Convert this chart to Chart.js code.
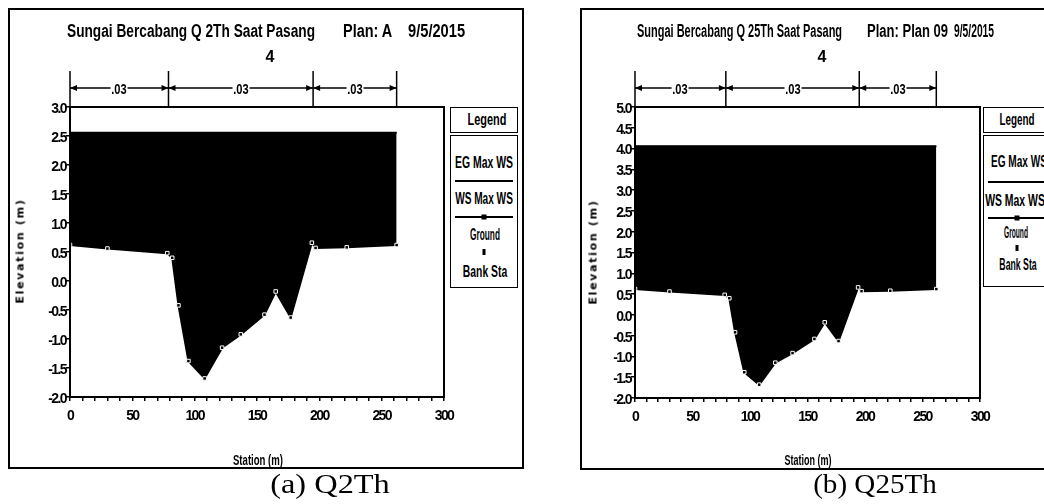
<!DOCTYPE html>
<html><head><meta charset="utf-8">
<script src="https://cdn.jsdelivr.net/npm/chart.js@4.4.1/dist/chart.umd.min.js"></script>
<style>
html,body{margin:0;padding:0;background:#fff;}
body{width:1044px;height:504px;position:relative;overflow:hidden;font-family:'Liberation Sans',Arial,sans-serif;color:#000;}
canvas.c{position:absolute;left:0;top:0;}
.frame{position:absolute;border:2px solid #000;box-sizing:border-box;}
.t{position:absolute;white-space:nowrap;line-height:1;}
.cc{transform:translate(-50%,-50%);}
.lg{position:absolute;border:1.5px solid #000;box-sizing:border-box;background:#fff;}
.ttl{font-size:18px;font-weight:bold;top:31px;}
.leg{font-size:16px;font-weight:bold;}
.ln{position:absolute;height:2px;background:#000;}
.sq{position:absolute;width:5px;height:5px;background:#000;transform:translate(-50%,-50%);}
.ax{font-family:'DejaVu Sans',sans-serif;font-weight:bold;font-size:11px;letter-spacing:1.7px;}
.st{font-size:14px;font-weight:bold;}
.cap{font-family:'Liberation Serif','DejaVu Serif',serif;font-size:27px;}
.nv{font-size:15px;font-weight:bold;background:#fff;padding:0 1px;}
</style></head><body>
<div class="frame" style="left:8px;top:8px;width:516px;height:461px;"></div>
<div class="frame" style="left:580px;top:8px;width:500px;height:462px;"></div>

<canvas id="c1" class="c" width="1044" height="504"></canvas>
<canvas id="c2" class="c" width="1044" height="504"></canvas>

<!-- left panel texts -->
<div class="t ttl fit" data-w="248" data-al="l" style="left:67px;">Sungai Bercabang Q 2Th Saat Pasang</div>
<div class="t ttl fit" data-w="49" data-al="l" style="left:343px;">Plan: A</div>
<div class="t ttl fit" data-w="57" data-al="l" style="left:408px;">9/5/2015</div>
<div class="t cc" style="left:270px;top:57px;font-size:16px;font-weight:bold;">4</div>
<div class="t cc ax" style="left:20px;top:251px;transform:translate(-50%,-50%) rotate(-90deg);">Elevation (m)</div>
<div class="t st fit" data-w="50" data-al="c" style="left:258px;top:460px;">Station (m)</div>
<div class="t cap fit" data-w="120" data-al="c" style="left:330px;top:484px;">(a) Q2Th</div>

<div class="lg" style="left:450px;top:107px;width:68px;height:26px;"></div>
<div class="t leg fit" data-w="39" data-al="c" style="left:487px;top:120px;">Legend</div>
<div class="lg" style="left:450px;top:135px;width:68px;height:153px;"></div>
<div class="t leg fit" data-w="58" data-al="c" style="left:484px;top:163px;">EG Max WS</div>
<div class="ln" style="left:455px;top:180px;width:58px;"></div>
<div class="t leg fit" data-w="58" data-al="c" style="left:484px;top:199px;">WS Max WS</div>
<div class="ln" style="left:455px;top:216px;width:58px;"></div>
<div class="sq" style="left:484px;top:217px;"></div>
<div class="t leg fit" data-w="30" data-al="c" style="left:485px;top:235px;">Ground</div>
<div class="sq" style="left:484px;top:252px;width:3px;height:6px;"></div>
<div class="t leg fit" data-w="44" data-al="c" style="left:485px;top:272px;">Bank Sta</div>

<!-- right panel texts -->
<div class="t ttl fit" data-w="205" data-al="l" style="left:637px;">Sungai Bercabang Q 25Th Saat Pasang</div>
<div class="t ttl fit" data-w="81" data-al="l" style="left:867px;">Plan: Plan 09</div>
<div class="t ttl fit" data-w="40" data-al="l" style="left:954px;">9/5/2015</div>
<div class="t cc" style="left:822px;top:57px;font-size:16px;font-weight:bold;">4</div>
<div class="t cc ax" style="left:593px;top:252px;transform:translate(-50%,-50%) rotate(-90deg);">Elevation (m)</div>
<div class="t st fit" data-w="47" data-al="c" style="left:808px;top:460px;">Station (m)</div>
<div class="t cap fit" data-w="124" data-al="c" style="left:875px;top:484px;">(b) Q25Th</div>

<div class="lg" style="left:983px;top:107px;width:68px;height:26px;"></div>
<div class="t leg fit" data-w="35" data-al="c" style="left:1017px;top:120px;">Legend</div>
<div class="lg" style="left:983px;top:135px;width:68px;height:152px;"></div>
<div class="t leg fit" data-w="56" data-al="c" style="left:1019px;top:162px;">EG Max WS</div>
<div class="ln" style="left:988px;top:181px;width:58px;"></div>
<div class="t leg fit" data-w="60" data-al="c" style="left:1015px;top:201px;">WS Max WS</div>
<div class="ln" style="left:988px;top:217px;width:58px;"></div>
<div class="sq" style="left:1017px;top:218px;"></div>
<div class="t leg fit" data-w="24" data-al="c" style="left:1016px;top:233px;">Ground</div>
<div class="sq" style="left:1017px;top:248px;width:3px;height:6px;"></div>
<div class="t leg fit" data-w="37" data-al="c" style="left:1018px;top:265px;">Bank Sta</div>

<script>
// ---- data ----
const groundStation = [0, 30, 78, 82, 87, 95, 108, 122, 137, 156, 165, 177, 194, 197, 222, 262];
const groundElev    = [0.62, 0.56, 0.48, 0.40, -0.42, -1.38, -1.68, -1.15, -0.92, -0.58, -0.18, -0.63, 0.66, 0.57, 0.58, 0.62];
const bankStation = [78, 194];
const bankElev    = [0.48, 0.66];
const wsStation = [0, 262];
const wsQ2  = 2.55, egQ2  = 2.56;
const wsQ25 = 4.05, egQ25 = 4.06;
const nBreaks = [0, 79, 195, 262];
const nValues = ['.03', '.03', '.03'];
const xTickLabels = [0, 50, 100, 150, 200, 250, 300];
const yRangeQ2  = [-2.0, 3.0];
const yRangeQ25 = [-2.0, 5.0];

const FONT = "'Liberation Sans',Arial,sans-serif";

function fitText(el) {
  const target = parseFloat(el.dataset.w);
  const nat = el.offsetWidth;
  if (!nat) return;
  const s = target / nat;
  if (el.dataset.al === 'l') {
    el.style.transformOrigin = '0 50%';
    el.style.transform = 'translateY(-50%) scaleX(' + s + ')';
  } else {
    el.style.transform = 'translate(-50%,-50%) scaleX(' + s + ')';
  }
}

const condense = {
  id: 'condense',
  beforeDraw(chart) { chart.ctx.letterSpacing = '-1.6px'; },
  afterDraw(chart) { chart.ctx.letterSpacing = '0px'; }
};

const frameBox = {
  id: 'frameBox',
  afterDraw(chart) {
    const {ctx, chartArea: a} = chart;
    ctx.save();
    ctx.strokeStyle = '#000'; ctx.lineWidth = 2;
    ctx.strokeRect(a.left, a.top, a.right - a.left, a.bottom - a.top);
    ctx.restore();
  }
};

const nPlugin = {
  id: 'nvals',
  afterDraw(chart, args, opts) {
    const {ctx} = chart;
    const x = chart.scales.x;
    const ys = 71, ye = chart.chartArea.top, ya = 88;
    const px = nBreaks.map(b => x.getPixelForValue(b));
    ctx.save();
    ctx.strokeStyle = '#000'; ctx.fillStyle = '#000'; ctx.lineWidth = 1.5;
    px.forEach(p => { ctx.beginPath(); ctx.moveTo(p, ys); ctx.lineTo(p, ye); ctx.stroke(); });
    for (let i = 0; i < px.length - 1; i++) {
      const a = px[i], b = px[i + 1];
      ctx.beginPath(); ctx.moveTo(a, ya); ctx.lineTo(b, ya); ctx.stroke();
      ctx.beginPath(); ctx.moveTo(a, ya); ctx.lineTo(a + 7, ya - 3); ctx.lineTo(a + 7, ya + 3); ctx.closePath(); ctx.fill();
      ctx.beginPath(); ctx.moveTo(b, ya); ctx.lineTo(b - 7, ya - 3); ctx.lineTo(b - 7, ya + 3); ctx.closePath(); ctx.fill();
      const el = opts.labels[i];
      el.style.left = ((a + b) / 2) + 'px';
      el.style.top = ya + 'px';
    }
    ctx.restore();
  }
};

function makeLabels() {
  return nValues.map(v => {
    const s = document.createElement('div');
    s.className = 't nv fit';
    s.dataset.w = '17';
    s.dataset.al = 'c';
    s.textContent = v;
    document.body.appendChild(s);
    return s;
  });
}

function panel(id, pad, yr, ws, eg, yLabelPad) {
  const labels = makeLabels();
  const ground = groundStation.map((s, i) => ({x: s, y: groundElev[i]}));
  const bank = bankStation.map((s, i) => ({x: s, y: bankElev[i]}));
  return new Chart(document.getElementById(id), {
    type: 'scatter',
    data: {
      datasets: [
        {label: 'EG Max WS', data: wsStation.map(s => ({x: s, y: eg})), showLine: true,
         borderColor: '#000', borderWidth: 1.5, pointRadius: 0},
        {label: 'WS Max WS', data: wsStation.map(s => ({x: s, y: ws})), showLine: true,
         borderColor: '#000', borderWidth: 1.5, pointRadius: 0},
        {label: 'Ground', data: ground, showLine: true, borderColor: '#000', borderWidth: 2,
         fill: {value: ws}, backgroundColor: '#000',
         pointStyle: 'rect', pointRadius: 2.5, pointBackgroundColor: '#000',
         pointBorderColor: '#fff', pointBorderWidth: 1},
        {label: 'Bank Sta', data: bank, showLine: false, pointStyle: 'rect', pointRadius: 2,
         pointBackgroundColor: '#000', pointBorderColor: '#fff', pointBorderWidth: 1}
      ]
    },
    options: {
      responsive: false, animation: false, devicePixelRatio: 1,
      layout: {padding: pad},
      plugins: {legend: {display: false}, tooltip: {enabled: false}, nvals: {labels}},
      scales: {
        x: {
          type: 'linear', min: 0, max: 300,
          afterFit(s) { s.height = 40; s.paddingLeft = 0; s.paddingRight = 0; },
          border: {display: false},
          grid: {drawOnChartArea: false, drawTicks: true, tickLength: 4, color: '#000', lineWidth: 1.5},
          ticks: {stepSize: 10, autoSkip: false, maxRotation: 0, padding: 7, color: '#000',
                  font: {family: FONT, size: 14, weight: 'bold'},
                  callback: v => xTickLabels.includes(v) ? String(v) : ''}
        },
        y: {
          type: 'linear', min: yr[0], max: yr[1],
          afterFit(s) { s.width = pad.yw; s.paddingTop = 0; s.paddingBottom = 0; },
          border: {display: false},
          grid: {drawOnChartArea: false, drawTicks: true, tickLength: 4, color: '#000', lineWidth: 1.5},
          ticks: {stepSize: 0.5, autoSkip: false, padding: yLabelPad, labelOffset: 2, color: '#000',
                  font: {family: FONT, size: 14, weight: 'bold'},
                  callback: v => Number(v).toFixed(1)}
        }
      }
    },
    plugins: [condense, frameBox, nPlugin]
  });
}

panel('c1', {left: 30, top: 107, right: 600, bottom: 67, yw: 40}, yRangeQ2, wsQ2, egQ2, 0);
panel('c2', {left: 600, top: 107, right: 64, bottom: 66, yw: 35}, yRangeQ25, wsQ25, egQ25, 0);

document.querySelectorAll('.fit').forEach(fitText);
</script>
</body></html>
